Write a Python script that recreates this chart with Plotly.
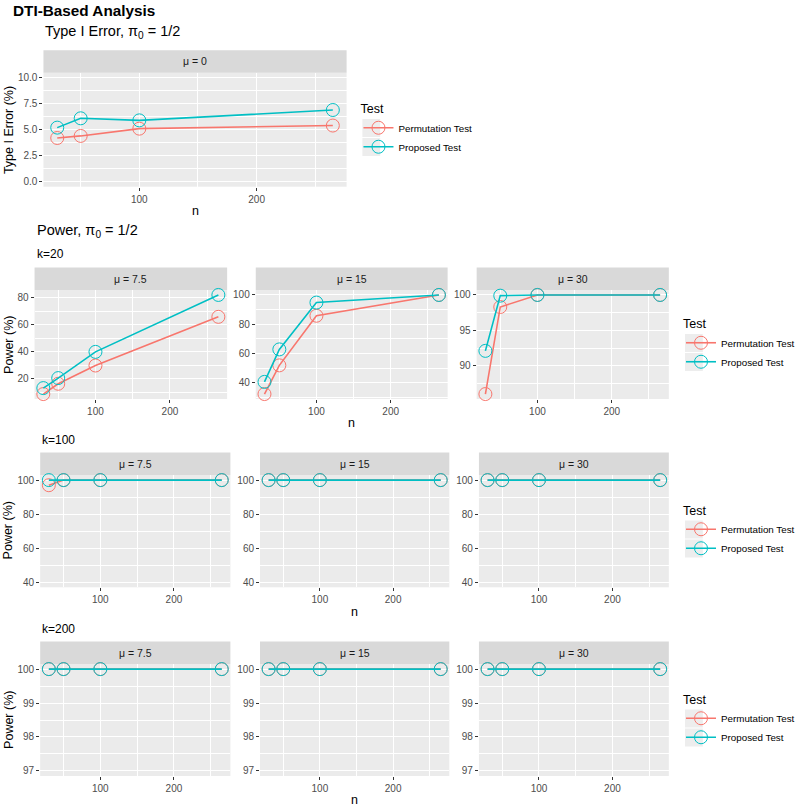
import plotly.graph_objects as go

# ---------------- data ----------------
n_vals = [30, 50, 100, 265]
test_names = ["Permutation Test", "Proposed Test"]
test_colors = ["#F8766D", "#00BFC4"]

type1_perm = [4.2, 4.4, 5.1, 5.4]
type1_prop = [5.2, 6.1, 5.9, 6.9]

mu_labels = ["μ = 7.5", "μ = 15", "μ = 30"]

k20_perm = [[8.7, 16.3, 29.8, 65.8], [32.3, 51.9, 85.8, 100.0], [86.0, 98.3, 100.0, 100.0]]
k20_prop = [[13.1, 20.5, 39.9, 82.0], [40.6, 62.8, 94.8, 100.0], [92.1, 99.9, 100.0, 100.0]]

k100_perm = [[97.0, 100.0, 100.0, 100.0], [100.0, 100.0, 100.0, 100.0], [100.0, 100.0, 100.0, 100.0]]
k100_prop = [[100.0, 100.0, 100.0, 100.0], [100.0, 100.0, 100.0, 100.0], [100.0, 100.0, 100.0, 100.0]]

k200_perm = [[100.0, 100.0, 100.0, 100.0], [100.0, 100.0, 100.0, 100.0], [100.0, 100.0, 100.0, 100.0]]
k200_prop = [[100.0, 100.0, 100.0, 100.0], [100.0, 100.0, 100.0, 100.0], [100.0, 100.0, 100.0, 100.0]]

type1_yticks = [0, 2.5, 5, 7.5, 10]
type1_yticktext = ["0.0", "2.5", "5.0", "7.5", "10.0"]
k20_yticks = [[20, 40, 60, 80], [40, 60, 80, 100], [90, 95, 100]]
k20_yminor = [[10, 30, 50, 70, 90], [30, 50, 70, 90], [87.5, 92.5, 97.5]]
k100_yticks = [40, 60, 80, 100]
k100_yminor = [50, 70, 90]
k200_yticks = [97, 98, 99, 100]
k200_yminor = [97.5, 98.5, 99.5]
x_ticks = [100, 200]
x_minor = [50, 150, 250]

# ---------------- layout helpers ----------------
W, H = 800, 806
FONT = "Liberation Sans, Arial, sans-serif"


def fx(px):
    return px / W


def fy(py):
    return 1 - py / H


def expand(vals, lims=None):
    lo, hi = (min(vals), max(vals)) if lims is None else lims
    span = hi - lo
    if span == 0:
        span = 1.0
    return [lo - 0.05 * span, hi + 0.05 * span]


x_range = expand(n_vals)

fig = go.Figure()
layout_axes = {}
shapes = []
annotations = []

STRIP_H = 22.5
panel_idx = [0]


def add_panel(x0, x1, ytop, ybot, series_pair, strip_label, yticks, yticktext, yminor,
              yrange, legend_name, show_legend):
    panel_idx[0] += 1
    i = panel_idx[0]
    xa = "x" if i == 1 else f"x{i}"
    ya = "y" if i == 1 else f"y{i}"
    for name, col, vals in zip(test_names, test_colors, series_pair):
        fig.add_trace(go.Scatter(
            x=n_vals, y=vals, mode="lines+markers", name=name,
            line=dict(color=col, width=1.6),
            marker=dict(symbol="circle-open", size=13, color=col, line=dict(width=1, color=col)),
            xaxis=xa, yaxis=ya, legend=legend_name, showlegend=show_legend,
            cliponaxis=False,
        ))
    xkey = "xaxis" if i == 1 else f"xaxis{i}"
    ykey = "yaxis" if i == 1 else f"yaxis{i}"
    layout_axes[xkey] = dict(
        domain=[fx(x0), fx(x1)], anchor=ya, range=x_range,
        tickmode="array", tickvals=x_ticks, ticks="outside", ticklen=3, tickwidth=1,
        tickcolor="#333333", tickfont=dict(size=10, color="#4d4d4d", family=FONT),
        showgrid=True, gridcolor="white", gridwidth=1.1, zeroline=False, showline=False,
        minor=dict(tickvals=x_minor, showgrid=True, gridcolor="white", gridwidth=0.5, ticks=""),
        fixedrange=True,
    )
    layout_axes[ykey] = dict(
        domain=[fy(ybot), fy(ytop)], anchor=xa, range=yrange,
        tickmode="array", tickvals=yticks, ticktext=yticktext, ticks="outside", ticklen=3,
        tickwidth=1, tickcolor="#333333", tickfont=dict(size=10, color="#4d4d4d", family=FONT),
        showgrid=True, gridcolor="white", gridwidth=1.1, zeroline=False, showline=False,
        minor=dict(tickvals=yminor, showgrid=True, gridcolor="white", gridwidth=0.5, ticks=""),
        fixedrange=True,
    )
    shapes.append(dict(type="rect", xref="paper", yref="paper",
                       x0=fx(x0), x1=fx(x1), y0=fy(ytop), y1=fy(ytop - STRIP_H),
                       fillcolor="#d9d9d9", line=dict(width=0), layer="below"))
    annotations.append(dict(text=strip_label, xref="paper", yref="paper",
                            x=fx((x0 + x1) / 2), y=fy(ytop - STRIP_H / 2),
                            xanchor="center", yanchor="middle", showarrow=False,
                            font=dict(size=10.5, color="#1a1a1a", family=FONT)))


def text(s, px, py, size, bold=False, xanchor="left", angle=0, color="black"):
    annotations.append(dict(text=f"<b>{s}</b>" if bold else s, xref="paper", yref="paper",
                            x=fx(px), y=fy(py), xanchor=xanchor, yanchor="middle",
                            showarrow=False, textangle=angle,
                            font=dict(size=size, color=color, family=FONT)))


# ---------------- Type I error panel ----------------
add_panel(44, 351, 72.7, 186.7, [type1_perm, type1_prop], "μ = 0",
          type1_yticks, type1_yticktext, [1.25, 3.75, 6.25, 8.75],
          expand([0, 10], (0, 10)), "legend", True)

# ---------------- power panels ----------------
col_x_k20 = [(35, 230), (259, 453.3), (482.7, 677.3)]
col_x_k = [(40.7, 233.3), (263.3, 455), (485, 677.3)]

for j in range(3):
    x0, x1 = col_x_k20[j]
    allv = k20_perm[j] + k20_prop[j]
    add_panel(x0, x1, 290, 399, [k20_perm[j], k20_prop[j]], mu_labels[j],
              k20_yticks[j], [str(v) for v in k20_yticks[j]], k20_yminor[j],
              expand(allv), "legend2", j == 0)
for j in range(3):
    x0, x1 = col_x_k[j]
    add_panel(x0, x1, 475, 587.3, [k100_perm[j], k100_prop[j]], mu_labels[j],
              k100_yticks, [str(v) for v in k100_yticks], k100_yminor,
              expand([], (40, 100)), "legend3", j == 0)
for j in range(3):
    x0, x1 = col_x_k[j]
    add_panel(x0, x1, 664, 776, [k200_perm[j], k200_prop[j]], mu_labels[j],
              k200_yticks, [str(v) for v in k200_yticks], k200_yminor,
              expand([], (97, 100)), "legend4", j == 0)

# ---------------- titles ----------------
text("DTI-Based Analysis", 11, 10, 15.3, bold=True)
text("Type I Error, π<sub>0</sub> = 1/2", 44, 32, 14.5)
text("Power, π<sub>0</sub> = 1/2", 35, 231, 14.5)
text("k=20", 35, 254, 12)
text("k=100", 40.7, 439.5, 12)
text("k=200", 40.7, 629, 12)

# axis titles
text("Type I Error (%)", 8.5, 129.7, 12.5, xanchor="center", angle=-90)
text("Power (%)", 8.5, 344.5, 12.5, xanchor="center", angle=-90)
text("Power (%)", 8.5, 530, 12.5, xanchor="center", angle=-90)
text("Power (%)", 8.5, 719.5, 12.5, xanchor="center", angle=-90)
text("n", 197.5, 211, 12.5, xanchor="center")
text("n", 356, 423.3, 12.5, xanchor="center")
text("n", 359, 611.6, 12.5, xanchor="center")
text("n", 359, 800.3, 12.5, xanchor="center")


# legend key backgrounds (ggplot grey key boxes)
def key_boxes(lx, ly):
    cx = lx + 13
    for cy in (ly + 31, ly + 50):
        shapes.append(dict(type="rect", xref="paper", yref="paper",
                           x0=fx(cx - 9), x1=fx(cx + 9), y0=fy(cy + 9), y1=fy(cy - 9),
                           fillcolor="#ededed", line=dict(width=0), layer="below"))


def legend_cfg(px, py):
    key_boxes(px, py)
    return dict(x=fx(px), y=fy(py), xanchor="left", yanchor="top",
                title=dict(text="Test", font=dict(size=12.5, color="black", family=FONT)),
                font=dict(size=9.8, color="black", family=FONT),
                bgcolor="rgba(0,0,0,0)", itemwidth=30, tracegroupgap=0,
                itemclick=False, itemdoubleclick=False)


legends = dict(
    legend=legend_cfg(363, 97),
    legend2=legend_cfg(689.7, 312),
    legend3=legend_cfg(689.7, 498.5),
    legend4=legend_cfg(689.7, 687.5),
)

fig.update_layout(
    width=W, height=H, margin=dict(l=0, r=0, t=0, b=0),
    paper_bgcolor="white", plot_bgcolor="#ebebeb",
    font=dict(family=FONT, color="black"),
    shapes=shapes, annotations=annotations,
    **legends,
    **layout_axes,
)

fig.write_html("out.html", config={"displayModeBar": False, "staticPlot": False},
               post_script="document.body.style.margin='0';")
